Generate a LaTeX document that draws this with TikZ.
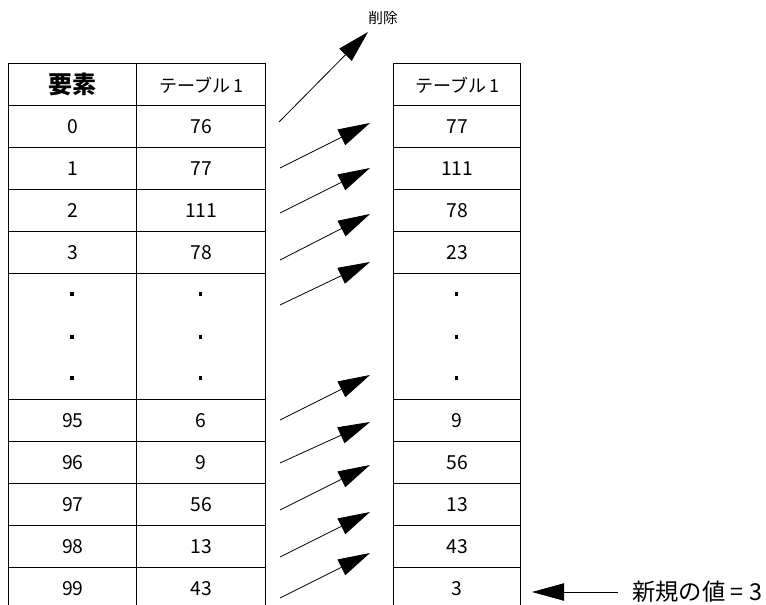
\documentclass[tikz,border=0pt]{standalone}
\usepackage{fontspec}
\setmainfont{Noto Sans CJK JP}
\usetikzlibrary{arrows.meta}

\begin{document}
\begin{tikzpicture}[x=0.75pt,y=-0.75pt,
  cell/.style={draw,line width=1.1pt,anchor=north west,inner sep=0pt,
    minimum height=31.5pt,font=\fontsize{14.5}{16}\selectfont},
  colA/.style={cell,minimum width=96pt},
  colB/.style={cell,minimum width=96.75pt},
  colC/.style={cell,minimum width=95.25pt},
  move/.style={line width=0.6pt,-{Triangle[length=24pt,width=13pt]}},
  dotmark/.style={fill,inner sep=0pt,minimum size=2.4pt}]
\useasboundingbox (0,0) rectangle (766,605);
% header row
\node[colA,font=\fontsize{18}{20}\selectfont\bfseries] (hA) at (8,63) {要素};
\node[colB,font=\fontsize{13.5}{16}\selectfont] (hB) at (136,63) {テーブル\,1};
\node[colC,font=\fontsize{13.5}{16}\selectfont] (hC) at (393,63) {テーブル\,1};
% top rows: index / old table / new table
\foreach \k/\v/\w [count=\i from 0] in {0/76/77,1/77/111,2/111/78,3/78/23}{
  \node[colA] (a\k) at (8,105+42*\i) {\k};
  \node[colB] (b\k) at (136,105+42*\i) {\v};
  \node[colC] (c\k) at (393,105+42*\i) {\w};
}
% the gap with dots
\node[colA,minimum height=94.5pt] (aGap) at (8,273) {};
\node[colB,minimum height=94.5pt] (bGap) at (136,273) {};
\node[colC,minimum height=94.5pt] (cGap) at (393,273) {};
\foreach \y [count=\n] in {294,337,378}{
  \node[dotmark] (da\n) at (72,\y) {};
  \node[dotmark] (db\n) at (200.5,\y) {};
  \node[dotmark] (dc\n) at (456.5,\y) {};
}
% bottom rows (last one runs off the page)
\foreach \k/\v/\w [count=\i from 0] in {95/6/9,96/9/56,97/56/13,98/13/43,99/43/3}{
  \node[colA] (a\k) at (8,399+42*\i) {\k};
  \node[colB] (b\k) at (136,399+42*\i) {\v};
  \node[colC] (c\k) at (393,399+42*\i) {\w};
}
% shift arrows
\foreach \t/\h [count=\n] in {168/123,213/168,260/214,305/262,420/375,463/422,510/465,557/512,598/553}{
  \coordinate (s\n) at (280,\t);
  \coordinate (e\n) at (370,\h);
  \draw[move] (s\n) -- (e\n);
}
% dropped value
\node[font=\fontsize{11}{13}\selectfont] (del) at (383,18) {削除};
\coordinate (dtail) at (279,122);
\coordinate (dtip) at (368,32);
\draw[move] (dtail) -- (dtip);
% new value
\node[anchor=west,inner sep=0pt,font=\fontsize{17.5}{20}\selectfont] (new) at (632,592) {新規の値 = 3};
\coordinate (ins) at (532,592);
\draw[move] ([xshift=-10.5pt]new.west) -- (ins);
\end{tikzpicture}
\end{document}
